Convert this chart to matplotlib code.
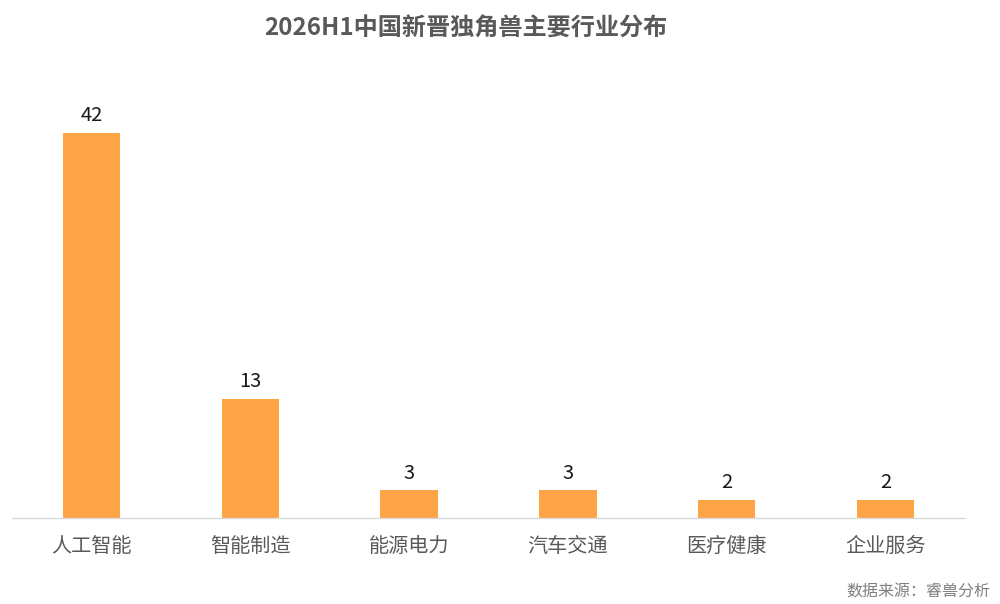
import matplotlib
matplotlib.use("Agg")
import matplotlib.pyplot as plt

plt.rcParams['font.family'] = ['Noto Sans CJK SC', 'DejaVu Sans']

categories = ["人工智能", "智能制造", "能源电力", "汽车交通", "医疗健康", "企业服务"]
counts = [42, 13, 3, 3, 2, 2]

title = "2026H1中国新晋独角兽主要行业分布"
source = "数据来源：睿兽分析"

fig = plt.figure(figsize=(10, 6.04), dpi=100)
ax = fig.add_axes([0.012, 0.1424, 0.953, 0.7285])

x = range(len(categories))
bars = ax.bar(x, counts, width=0.36, color="#FFA347")
ax.bar_label(bars, labels=[str(v) for v in counts], padding=5, fontsize=14.5, color="#1a1a1a")

ax.set_xlim(-0.5, len(categories) - 0.5)
ax.set_ylim(0, 48)
ax.set_xticks(list(x))
ax.set_xticklabels(categories, fontsize=14.5, color="#595959")
ax.tick_params(axis='x', length=0, pad=13)
ax.set_yticks([])

for side in ["top", "right", "left"]:
    ax.spines[side].set_visible(False)
ax.spines["bottom"].set_color("#d9d9d9")
ax.spines["bottom"].set_linewidth(1)

fig.text(0.466, 0.953, title, ha="center", va="center", fontsize=17.4,
         fontweight="bold", color="#595959")
fig.text(0.99, 0.02, source, ha="right", va="center", fontsize=11.5, color="#7f7f7f")

fig.savefig("out.png", dpi=100)
